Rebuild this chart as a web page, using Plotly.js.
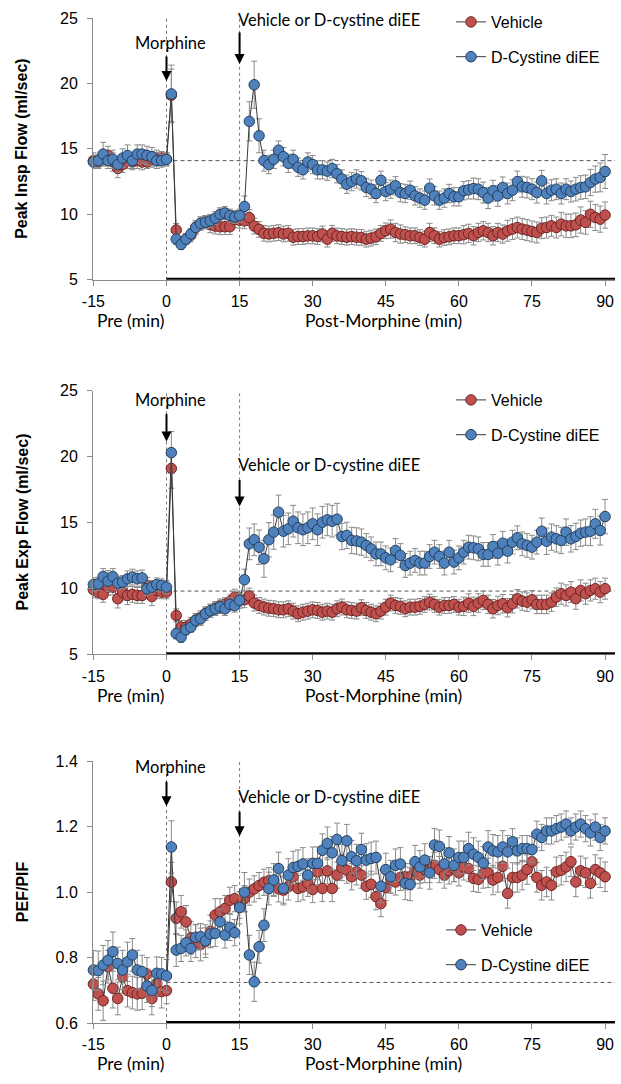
<!DOCTYPE html>
<html>
<head>
<meta charset="utf-8">
<script src="https://cdn.plot.ly/plotly-3.0.1.min.js"></script>
<style>html,body{margin:0;padding:0;background:#fff;}#chart{width:621px;height:1084px;}</style>
</head>
<body>
<div id="chart"></div>
<script>
// ---------- data ----------
const minutes = [-15,-14,-13,-12,-11,-10,-9,-8,-7,-6,-5,-4,-3,-2,-1,0,
 1,2,3,4,5,6,7,8,9,10,11,12,13,14,15,16,17,18,19,20,21,22,23,24,25,26,27,28,29,30,
 31,32,33,34,35,36,37,38,39,40,41,42,43,44,45,46,47,48,49,50,51,52,53,54,55,56,57,58,59,60,
 61,62,63,64,65,66,67,68,69,70,71,72,73,74,75,76,77,78,79,80,81,82,83,84,85,86,87,88,89,90];

const xTickVals = [-15, 0, 15, 30, 45, 60, 75, 90];
const xTickText = ['-15', '0', '15', '30', '45', '60', '75', '90'];
const seriesNames = ['Vehicle', 'D-Cystine diEE'];
const yTitles = ['Peak Insp Flow (ml/sec)', 'Peak Exp Flow (ml/sec)', 'PEF/PIF'];
const eventLabels = ['Morphine', 'Vehicle or D-cystine diEE'];
const eventTimes = [0, 15];
const baselines = [14.1, 9.8, 0.724];

// Panel 1: Peak inspiratory flow
const inspVehicle = [14.1,14.0,14.3,14.5,14.0,13.5,13.8,14.1,14.0,14.1,14.0,14.0,14.2,14.3,14.3,14.2,
 19.1,8.8,7.8,8.1,8.4,9.0,9.3,9.4,9.2,9.1,
 9.05,9.05,9.05,9.6,9.55,9.5,9.75,9.1,8.85,8.55,
 8.5,8.55,8.6,8.5,8.55,8.25,8.3,8.3,8.35,8.35,
 8.3,8.5,8.1,8.55,8.35,8.3,8.25,8.3,8.25,8.23,
 8.1,8.18,8.28,8.54,8.74,8.87,8.61,8.49,8.44,8.36,
 8.36,8.23,8.1,8.61,8.36,8.1,8.23,8.28,8.36,8.36,
 8.44,8.54,8.36,8.61,8.74,8.61,8.36,8.61,8.49,8.74,
 8.87,8.99,8.87,8.79,8.69,8.61,8.94,8.99,9.12,8.99,
 9.25,9.12,9.12,9.2,9.56,9.38,10.0,9.76,9.63,9.94];
const inspCystine = [14.0,14.1,14.6,14.1,14.2,13.8,14.3,14.5,14.1,14.6,14.6,14.5,14.4,14.1,14.1,14.2,
 19.2,8.1,7.7,8.1,8.5,9.0,9.3,9.4,9.5,9.7,
 10.0,10.1,9.9,9.8,9.9,10.6,17.1,19.9,16.0,14.1,
 13.8,14.2,14.9,14.4,13.9,14.2,13.6,13.4,14.0,13.8,
 13.4,13.4,13.3,13.5,13.1,12.7,12.3,12.5,12.7,12.56,
 12.05,11.92,11.59,12.6,11.74,11.92,12.18,11.66,11.59,11.84,
 11.41,11.24,11.08,12.0,11.41,11.08,11.24,11.59,11.34,11.34,
 11.8,11.87,11.97,11.92,11.66,11.24,11.8,11.41,12.05,11.59,
 11.84,12.5,12.1,12.05,11.92,11.66,12.56,11.59,11.84,11.92,
 11.59,11.92,11.74,11.92,12.05,12.1,12.43,12.69,12.82,13.27];
const inspVehicleErr = [0.6,0.5,0.6,0.7,0.7,0.7,0.6,0.6,0.6,0.6,0.6,0.5,0.6,0.6,0.5,0.5,
 2.0,0.5,0.4,0.4,0.5,0.5,0.5,0.5,0.6,0.6,
 0.6,0.6,0.6,0.6,0.6,0.6,0.6,0.6,0.6,0.6,
 0.6,0.6,0.6,0.6,0.6,0.6,0.6,0.6,0.6,0.6,
 0.6,0.6,0.6,0.6,0.6,0.6,0.6,0.6,0.6,0.6,
 0.6,0.6,0.6,0.6,0.6,0.7,0.7,0.7,0.6,0.6,
 0.6,0.6,0.6,0.7,0.6,0.6,0.6,0.6,0.6,0.6,
 0.7,0.7,0.7,0.7,0.7,0.7,0.7,0.7,0.7,0.8,
 0.8,0.8,0.8,0.8,0.8,0.8,0.8,0.8,0.8,0.8,
 0.9,0.9,0.9,0.9,1.0,0.9,1.0,1.0,1.0,1.0];
const inspCystineErr = [0.5,0.5,0.9,0.6,0.7,0.6,0.7,0.8,0.6,0.7,0.7,0.7,0.7,0.6,0.5,0.5,
 2.2,0.4,0.4,0.4,0.4,0.5,0.5,0.5,0.5,0.5,
 0.5,0.5,0.5,0.5,0.5,0.8,1.5,1.8,1.3,0.8,
 0.7,0.7,0.7,0.7,0.7,0.7,0.7,0.7,0.7,0.7,
 0.7,0.7,0.7,0.7,0.7,0.7,0.7,0.7,0.7,0.7,
 0.7,0.7,0.7,0.7,0.7,0.7,0.7,0.7,0.7,0.7,
 0.7,0.7,0.7,0.7,0.7,0.7,0.7,0.7,0.7,0.7,
 0.7,0.7,0.8,0.8,0.8,0.8,0.8,0.8,0.8,0.8,
 0.8,0.8,0.8,0.8,0.8,0.8,0.8,0.8,0.8,0.8,
 0.8,0.8,0.8,0.9,0.9,0.9,1.0,1.0,1.1,1.3];

// Panel 2: Peak expiratory flow
const expVehicle = [9.9,9.72,9.55,10.1,10.1,9.22,9.72,9.47,9.55,9.47,9.47,10.23,9.39,9.85,9.72,9.72,
 19.1,7.95,7.07,7.07,7.3,7.6,7.8,8.1,8.3,8.5,
 8.7,8.8,9.0,9.34,9.09,9.14,9.42,8.89,8.71,8.59,
 8.5,8.46,8.38,8.38,8.46,8.28,8.08,8.2,8.28,8.38,
 8.33,8.2,8.28,8.2,8.46,8.59,8.38,8.33,8.28,8.54,
 8.33,8.2,8.08,8.28,8.58,8.89,8.71,8.64,8.46,8.58,
 8.58,8.64,8.79,8.96,8.79,8.58,8.71,8.71,8.79,8.58,
 8.64,8.89,8.64,8.89,9.09,8.79,8.46,8.71,8.84,8.54,
 8.84,9.22,9.04,8.96,9.14,8.79,8.79,8.79,8.96,9.34,
 9.6,9.47,9.72,9.22,9.85,9.6,9.85,9.98,9.72,9.98];
const expCystine = [10.3,10.35,10.9,10.55,10.9,10.4,10.48,10.73,10.86,10.73,10.8,9.98,10.1,10.3,10.23,10.1,
 20.3,6.57,6.3,6.87,7.07,7.58,7.7,8.08,8.3,8.45,
 8.6,8.45,8.8,8.7,9.1,10.66,13.38,13.69,13.13,12.25,
 13.69,14.27,15.78,14.34,14.52,15.1,14.6,14.45,14.6,14.9,
 14.45,15.02,15.2,15.1,15.25,13.94,14.02,13.64,13.6,13.51,
 13.26,13.0,12.62,12.62,12.32,12.17,12.88,12.5,11.74,11.92,
 12.12,11.92,11.92,12.42,12.75,12.42,11.92,12.75,12.0,12.32,
 12.75,13.13,13.08,13.0,12.58,12.58,13.18,12.67,13.43,12.83,
 13.51,13.84,13.38,13.26,13.13,13.51,14.34,13.58,13.89,13.76,
 13.64,14.27,13.76,13.94,14.19,14.27,14.34,14.9,14.39,15.45];
const expVehicleErr = [0.6,0.5,0.6,0.6,0.6,0.7,0.6,0.7,0.6,0.6,0.6,0.6,0.7,0.6,0.5,0.5,
 1.5,0.5,0.5,0.5,0.5,0.5,0.5,0.5,0.5,0.5,
 0.5,0.5,0.5,0.6,0.6,0.6,0.6,0.6,0.6,0.6,
 0.6,0.6,0.6,0.6,0.6,0.6,0.6,0.6,0.6,0.6,
 0.6,0.6,0.6,0.6,0.6,0.6,0.6,0.6,0.6,0.6,
 0.6,0.6,0.6,0.6,0.6,0.6,0.6,0.6,0.6,0.6,
 0.6,0.6,0.6,0.6,0.6,0.6,0.6,0.6,0.6,0.6,
 0.7,0.7,0.7,0.7,0.7,0.7,0.7,0.7,0.7,0.7,
 0.7,0.7,0.7,0.7,0.7,0.7,0.7,0.7,0.7,0.7,
 0.8,0.8,0.8,0.8,0.8,0.8,0.8,0.8,0.8,0.8];
const expCystineErr = [0.5,0.5,0.6,0.8,0.6,0.5,0.5,0.6,0.6,0.6,0.6,0.5,0.5,0.5,0.5,0.5,
 1.6,0.4,0.4,0.4,0.4,0.4,0.5,0.5,0.5,0.5,
 0.5,0.5,0.5,0.5,0.5,0.8,1.2,1.2,1.3,1.4,
 1.3,1.3,1.3,1.2,1.2,1.2,1.2,1.2,1.2,1.2,
 1.2,1.2,1.2,1.2,1.2,1.0,1.0,1.0,1.0,1.0,
 0.9,0.9,0.9,0.9,0.9,0.9,0.9,0.9,0.9,0.9,
 0.9,0.9,0.9,0.9,0.9,0.9,0.9,0.9,0.9,0.9,
 0.9,0.9,0.9,0.9,0.9,0.9,0.9,0.9,0.9,0.9,
 0.9,0.9,0.9,0.9,0.9,0.9,1.0,1.0,1.0,1.0,
 1.0,1.0,1.0,1.0,1.0,1.0,1.1,1.1,1.1,1.3];

// Panel 3: PEF/PIF ratio
const ratioVehicle = [0.719,0.689,0.668,0.772,0.706,0.675,0.741,0.699,0.693,0.689,0.691,0.75,0.675,0.721,0.696,0.699,
 1.031,0.92,0.94,0.909,0.86,0.85,0.84,0.85,0.88,0.93,
 0.94,0.95,0.975,0.98,0.96,0.98,1.0,1.01,1.02,1.03,
 1.035,1.03,1.01,1.006,1.016,1.047,1.011,1.016,1.027,1.008,
 1.062,1.011,1.065,1.011,1.052,1.075,1.067,1.047,1.062,1.052,
 1.018,1.024,0.986,0.965,1.014,1.037,1.031,1.045,1.047,1.047,
 1.065,1.052,1.069,1.069,1.082,1.069,1.052,1.065,1.072,1.059,
 1.077,1.072,1.042,1.039,1.057,1.059,1.037,1.045,1.079,0.996,
 1.045,1.045,1.052,1.069,1.093,1.045,1.021,1.031,1.021,1.062,
 1.067,1.077,1.093,1.031,1.065,1.059,1.027,1.069,1.059,1.047];
const ratioCystine = [0.762,0.76,0.777,0.792,0.818,0.782,0.762,0.787,0.808,0.762,0.757,0.713,0.70,0.752,0.75,0.744,
 1.138,0.823,0.828,0.845,0.828,0.862,0.864,0.851,0.872,0.874,
 0.909,0.869,0.892,0.876,0.953,1.0,0.808,0.726,0.833,0.899,
 1.011,1.037,1.072,1.011,1.052,1.075,1.079,1.086,1.052,1.088,
 1.088,1.128,1.149,1.12,1.161,1.096,1.157,1.108,1.096,1.13,
 1.098,1.103,1.106,1.018,1.069,1.047,1.082,1.086,1.027,1.024,
 1.093,1.077,1.098,1.059,1.144,1.14,1.086,1.12,1.082,1.106,
 1.106,1.133,1.116,1.106,1.089,1.138,1.126,1.123,1.138,1.123,
 1.154,1.126,1.133,1.133,1.13,1.177,1.167,1.187,1.187,1.194,
 1.199,1.208,1.187,1.199,1.208,1.194,1.181,1.199,1.167,1.187];
const ratioVehicleErr = [0.05,0.05,0.06,0.05,0.06,0.05,0.05,0.05,0.05,0.05,0.05,0.05,0.05,0.04,0.05,0.04,
 0.06,0.05,0.05,0.05,0.05,0.05,0.05,0.05,0.05,0.05,
 0.04,0.04,0.04,0.04,0.04,0.04,0.04,0.04,0.04,0.04,
 0.04,0.04,0.04,0.04,0.04,0.04,0.04,0.04,0.04,0.04,
 0.04,0.04,0.04,0.04,0.04,0.04,0.04,0.04,0.04,0.04,
 0.04,0.04,0.04,0.04,0.04,0.04,0.04,0.04,0.04,0.04,
 0.04,0.04,0.04,0.04,0.04,0.04,0.04,0.04,0.04,0.04,
 0.04,0.04,0.04,0.04,0.045,0.045,0.045,0.045,0.045,0.045,
 0.045,0.045,0.045,0.045,0.045,0.045,0.045,0.045,0.045,0.045,
 0.045,0.045,0.045,0.045,0.045,0.045,0.045,0.045,0.045,0.045];
const ratioCystineErr = [0.06,0.06,0.06,0.06,0.06,0.05,0.06,0.06,0.05,0.06,0.05,0.05,0.05,0.05,0.05,0.05,
 0.08,0.05,0.04,0.04,0.04,0.04,0.04,0.04,0.04,0.04,
 0.04,0.04,0.04,0.04,0.05,0.06,0.06,0.06,0.05,0.05,
 0.05,0.05,0.05,0.05,0.05,0.05,0.05,0.05,0.05,0.05,
 0.05,0.05,0.05,0.05,0.05,0.05,0.05,0.05,0.05,0.05,
 0.05,0.05,0.05,0.05,0.05,0.05,0.05,0.05,0.05,0.05,
 0.05,0.05,0.05,0.05,0.05,0.05,0.05,0.05,0.05,0.05,
 0.05,0.05,0.05,0.05,0.05,0.05,0.05,0.05,0.05,0.05,
 0.04,0.04,0.04,0.04,0.04,0.04,0.04,0.04,0.04,0.04,
 0.04,0.04,0.04,0.04,0.04,0.04,0.04,0.04,0.04,0.04];

// ---------- layout helpers (pixel geometry) ----------
const W = 621, H = 1084;
const M = {l: 93, r: 6, t: 17, b: 61};
const panelsPx = [{top: 17, bottom: 279}, {top: 390, bottom: 654}, {top: 761, bottom: 1023}];
const plotH = H - M.t - M.b;
const xRange = [-15.08, 92.04];
function paperY(py) { return (H - M.b - py) / plotH; }
function domFrac(p, py) { const P = panelsPx[p]; return (P.bottom - py) / (P.bottom - P.top); }

const colors = {vehFill: '#C0504D', vehLine: '#6b2624', cysFill: '#4F81BD', cysLine: '#23405f'};
const tickFont = {family: 'Liberation Sans, Arial, sans-serif', size: 16, color: '#000'};
const calibriLike = 'Lato, Open Sans, sans-serif';

const panelData = [
  {veh: inspVehicle, cys: inspCystine, vehE: inspVehicleErr, cysE: inspCystineErr, range: [5, 25], tv: [5,10,15,20,25], tt: ['5','10','15','20','25']},
  {veh: expVehicle, cys: expCystine, vehE: expVehicleErr, cysE: expCystineErr, range: [5, 25], tv: [5,10,15,20,25], tt: ['5','10','15','20','25']},
  {veh: ratioVehicle, cys: ratioCystine, vehE: ratioVehicleErr, cysE: ratioCystineErr, range: [0.6, 1.4], tv: [0.6,0.8,1.0,1.2,1.4], tt: ['0.6','0.8','1.0','1.2','1.4']}
];

const traces = [];
const layout = {
  width: W, height: H, margin: M,
  paper_bgcolor: '#fff', plot_bgcolor: '#fff',
  showlegend: true, shapes: [], annotations: []
};

const legendPos = [
  {x: 451, top: 5},
  {x: 451, top: 383},
  {x: 441, top: 913}
];

const eventArrows = [
  [{tip: 80, tail: 54, labelY: 42}, {tip: 63, tail: 30, labelY: 19}],
  [{tip: 441, tail: 412, labelY: 399}, {tip: 506, tail: 478, labelY: 464}],
  [{tip: 806, tail: 780, labelY: 767}, {tip: 836, tail: 810, labelY: 797}]
];
const labelAnchor = [{anchor: 'center', shift: 4}, {anchor: 'left', shift: -4}];

panelData.forEach((pd, i) => {
  const n = i === 0 ? '' : String(i + 1);
  const xa = 'x' + n, ya = 'y' + n;
  const lg = 'legend' + n;
  const P = panelsPx[i];
  const common = {x: minutes, xaxis: xa, yaxis: ya, mode: 'lines+markers', cliponaxis: false,
    legend: lg, line: {color: '#3a3a3a', width: 1}};
  traces.push(Object.assign({}, common, {
    y: pd.veh, name: seriesNames[0], legendgroup: 'v' + i,
    marker: {size: 10.5, color: colors.vehFill, line: {color: colors.vehLine, width: 1}},
    error_y: {type: 'data', array: pd.vehE, color: '#8a8a8a', thickness: 1, width: 3}
  }));
  traces.push(Object.assign({}, common, {
    y: pd.cys, name: seriesNames[1], legendgroup: 'c' + i,
    marker: {size: 10.5, color: colors.cysFill, line: {color: colors.cysLine, width: 1}},
    error_y: {type: 'data', array: pd.cysE, color: '#8a8a8a', thickness: 1, width: 3}
  }));

  layout['xaxis' + n] = {
    domain: [0, 1], anchor: ya, range: xRange,
    tickmode: 'array', tickvals: xTickVals, ticktext: xTickText,
    showline: true, linecolor: '#8a8a8a', linewidth: 1,
    ticks: 'outside', ticklen: 5, tickcolor: '#8a8a8a',
    showgrid: false, zeroline: false, tickfont: tickFont, ticklabelstandoff: 2
  };
  layout['yaxis' + n] = {
    domain: [paperY(P.bottom), paperY(P.top)], anchor: xa, range: pd.range,
    tickmode: 'array', tickvals: pd.tv, ticktext: pd.tt,
    showline: true, linecolor: '#8a8a8a', linewidth: 1,
    ticks: 'outside', ticklen: 5, tickcolor: '#8a8a8a',
    showgrid: false, zeroline: false, tickfont: tickFont, ticklabelstandoff: 6
  };
  layout[lg] = {
    x: (legendPos[i].x - M.l) / (W - M.l - M.r), xanchor: 'left',
    y: paperY(legendPos[i].top), yanchor: 'top',
    bgcolor: 'rgba(0,0,0,0)', borderwidth: 0,
    font: {family: 'Liberation Sans, Arial, sans-serif', size: 16, color: '#000'},
    traceorder: 'grouped', tracegroupgap: 11
  };

  // thick bar along the bottom for the post-morphine period
  layout.shapes.push({type: 'line', xref: xa, yref: ya, x0: 0, x1: xRange[1], y0: pd.range[0], y1: pd.range[0],
    line: {color: '#000', width: 4}, layer: 'above'});
  // event vertical dotted lines
  eventTimes.forEach(t => layout.shapes.push({type: 'line', xref: xa, yref: ya + ' domain', x0: t, x1: t, y0: 0, y1: 1,
    line: {color: '#777', width: 1, dash: 'dot'}, layer: 'below'}));
  // baseline dashed line
  layout.shapes.push({type: 'line', xref: xa, yref: ya, x0: 0, x1: xRange[1], y0: baselines[i], y1: baselines[i],
    line: {color: '#555', width: 1, dash: '4px,3px'}, layer: 'below'});

  // y title
  layout.annotations.push({text: '<b>' + yTitles[i] + '</b>', xref: 'paper', yref: ya + ' domain',
    x: (22 - M.l) / (W - M.l - M.r), y: 0.5, textangle: -90, showarrow: false,
    xanchor: 'center', yanchor: 'middle',
    font: {family: 'Liberation Sans, Arial, sans-serif', size: 16, color: '#000'}});
  // x sub labels
  layout.annotations.push({text: 'Pre (min)', xref: xa, yref: ya + ' domain', x: -7.3, y: domFrac(i, P.bottom + 41),
    showarrow: false, xanchor: 'center', yanchor: 'middle', font: {family: calibriLike, size: 17.5, color: '#000'}});
  layout.annotations.push({text: 'Post-Morphine (min)', xref: xa, yref: ya + ' domain', x: 44.5, y: domFrac(i, P.bottom + 41),
    showarrow: false, xanchor: 'center', yanchor: 'middle', font: {family: calibriLike, size: 17.5, color: '#000'}});

  // event arrows + labels
  eventTimes.forEach((t, k) => {
    const ea = eventArrows[i][k];
    layout.annotations.push({text: '', xref: xa, yref: ya + ' domain', x: t, y: domFrac(i, ea.tip),
      ax: 0, ay: ea.tail - ea.tip, axref: 'pixel', ayref: 'pixel', showarrow: true,
      arrowhead: 2, arrowsize: 1, arrowwidth: 2, arrowcolor: '#000', standoff: 0, startstandoff: 0});
    layout.annotations.push({text: eventLabels[k], xref: xa, yref: ya + ' domain', x: t, xshift: labelAnchor[k].shift,
      y: domFrac(i, ea.labelY), showarrow: false, xanchor: labelAnchor[k].anchor, yanchor: 'middle',
      font: {family: calibriLike, size: 16.5, color: '#000'}});
  });
});

Plotly.newPlot('chart', traces, layout, {displayModeBar: false, staticPlot: true});
</script>
</body>
</html>
